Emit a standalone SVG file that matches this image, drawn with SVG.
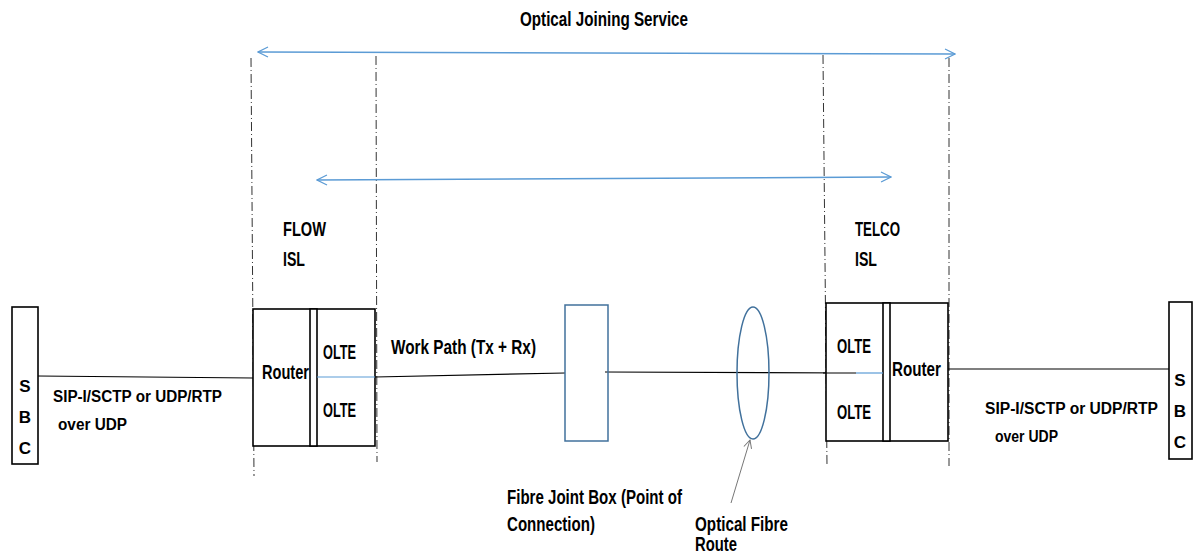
<svg xmlns="http://www.w3.org/2000/svg" width="1194" height="556" viewBox="0 0 1194 556">
<style>
text{font-family:"Liberation Sans",Arial,sans-serif;font-weight:bold;font-size:20px;fill:#000}
.sbc{font-size:17px;text-anchor:middle}
.sip{font-size:16px}
.box{fill:#fff;stroke:#000;stroke-width:1.6}
.blue{fill:none;stroke:#41719c;stroke-width:1.5}
.dd{stroke:#333;stroke-width:1;stroke-dasharray:9 3 1 3;fill:none}
.wire{stroke:#000;stroke-width:1.2;fill:none}
.bwire{stroke:#5b9bd5;stroke-width:1.2;fill:none}
.span{stroke:#5b9bd5;stroke-width:1.5;fill:none}
.mid{text-anchor:middle}
</style>
<defs>
<marker id="chev" viewBox="0 0 12 12" refX="11" refY="6" markerWidth="12" markerHeight="12" markerUnits="userSpaceOnUse" orient="auto-start-reverse">
<path d="M1,1 L11,6 L1,11" fill="none" stroke="#5b9bd5" stroke-width="1.2"/>
</marker>
<marker id="gray" viewBox="0 0 10 10" refX="9" refY="5" markerWidth="10" markerHeight="10" markerUnits="userSpaceOnUse" orient="auto">
<path d="M1,1 L9,5 L1,9" fill="none" stroke="#777" stroke-width="1"/>
</marker>
</defs>

<g id="boundaries">
<line class="dd" x1="251" y1="58" x2="254" y2="476"/>
<line class="dd" x1="376" y1="56" x2="377" y2="462"/>
<line class="dd" x1="823" y1="55" x2="827" y2="466"/>
<line class="dd" x1="949" y1="58" x2="949" y2="466"/>
</g>

<g id="title">
<text x="604" y="26" class="mid" textLength="168" lengthAdjust="spacingAndGlyphs">Optical Joining Service</text>
</g>

<g id="connectors">
<line class="span" x1="258" y1="52" x2="955" y2="54" marker-start="url(#chev)" marker-end="url(#chev)"/>
<line class="span" x1="317" y1="180" x2="891" y2="177" marker-start="url(#chev)" marker-end="url(#chev)"/>
<line class="wire" x1="38" y1="376" x2="253" y2="378"/>
<line class="wire" x1="375" y1="377" x2="565" y2="373"/>
<line class="wire" x1="605" y1="372" x2="856" y2="373"/>
<line class="wire" x1="948" y1="369" x2="1169" y2="369"/>
<line x1="731" y1="503" x2="750" y2="440" stroke="#777" stroke-width="1" marker-end="url(#gray)"/>
</g>

<g id="sbc-left">
<rect class="box" x="12" y="307" width="26" height="157"/>
<text x="25" y="392" class="sbc">S</text>
<text x="25" y="423" class="sbc">B</text>
<text x="25" y="454" class="sbc">C</text>
</g>

<g id="label-left">
<text x="53" y="402" class="sip" textLength="169" lengthAdjust="spacingAndGlyphs">SIP-I/SCTP or UDP/RTP</text>
<text x="58" y="430" class="sip" textLength="69" lengthAdjust="spacingAndGlyphs">over UDP</text>
</g>

<g id="flow-isl">
<text x="283" y="236" textLength="43" lengthAdjust="spacingAndGlyphs">FLOW</text>
<text x="283" y="266" textLength="22" lengthAdjust="spacingAndGlyphs">ISL</text>
</g>

<g id="flow-node">
<rect class="box" x="253" y="309" width="122" height="137"/>
<rect class="box" x="310" y="309" width="7" height="137"/>
<line class="bwire" x1="317" y1="377" x2="375" y2="377"/>
<text x="262" y="379" textLength="47" lengthAdjust="spacingAndGlyphs">Router</text>
<text x="323" y="359" textLength="33" lengthAdjust="spacingAndGlyphs">OLTE</text>
<text x="323" y="417" textLength="33" lengthAdjust="spacingAndGlyphs">OLTE</text>
</g>

<g id="work-path">
<text x="391" y="354" textLength="145" lengthAdjust="spacingAndGlyphs">Work Path (Tx + Rx)</text>
</g>

<g id="joint-box">
<rect class="blue" x="565" y="305" width="43" height="136"/>
<text x="507" y="504" textLength="175" lengthAdjust="spacingAndGlyphs">Fibre Joint Box (Point of</text>
<text x="507" y="531" textLength="88" lengthAdjust="spacingAndGlyphs">Connection)</text>
</g>

<g id="fibre-route">
<ellipse class="blue" cx="753" cy="373" rx="16" ry="66"/>
<text x="695" y="531" textLength="93" lengthAdjust="spacingAndGlyphs">Optical Fibre</text>
<text x="695" y="551" textLength="42" lengthAdjust="spacingAndGlyphs">Route</text>
</g>

<g id="telco-isl">
<text x="855" y="236" textLength="45" lengthAdjust="spacingAndGlyphs">TELCO</text>
<text x="855" y="266" textLength="22" lengthAdjust="spacingAndGlyphs">ISL</text>
</g>

<g id="telco-node">
<rect class="box" x="826" y="303" width="122" height="138"/>
<rect class="box" x="883" y="303" width="7" height="138"/>
<line class="wire" x1="823" y1="373" x2="856" y2="373"/>
<line class="bwire" x1="856" y1="373" x2="883" y2="373"/>
<text x="837" y="353" textLength="34" lengthAdjust="spacingAndGlyphs">OLTE</text>
<text x="837" y="419" textLength="34" lengthAdjust="spacingAndGlyphs">OLTE</text>
<text x="892" y="376" textLength="49" lengthAdjust="spacingAndGlyphs">Router</text>
</g>

<g id="sbc-right">
<rect class="box" x="1169" y="302" width="23" height="157"/>
<text x="1180" y="386" class="sbc">S</text>
<text x="1180" y="417" class="sbc">B</text>
<text x="1180" y="448" class="sbc">C</text>
</g>

<g id="label-right">
<text x="985" y="414" class="sip" textLength="173" lengthAdjust="spacingAndGlyphs">SIP-I/SCTP or UDP/RTP</text>
<text x="995" y="442" class="sip" textLength="63" lengthAdjust="spacingAndGlyphs">over UDP</text>
</g>
</svg>
